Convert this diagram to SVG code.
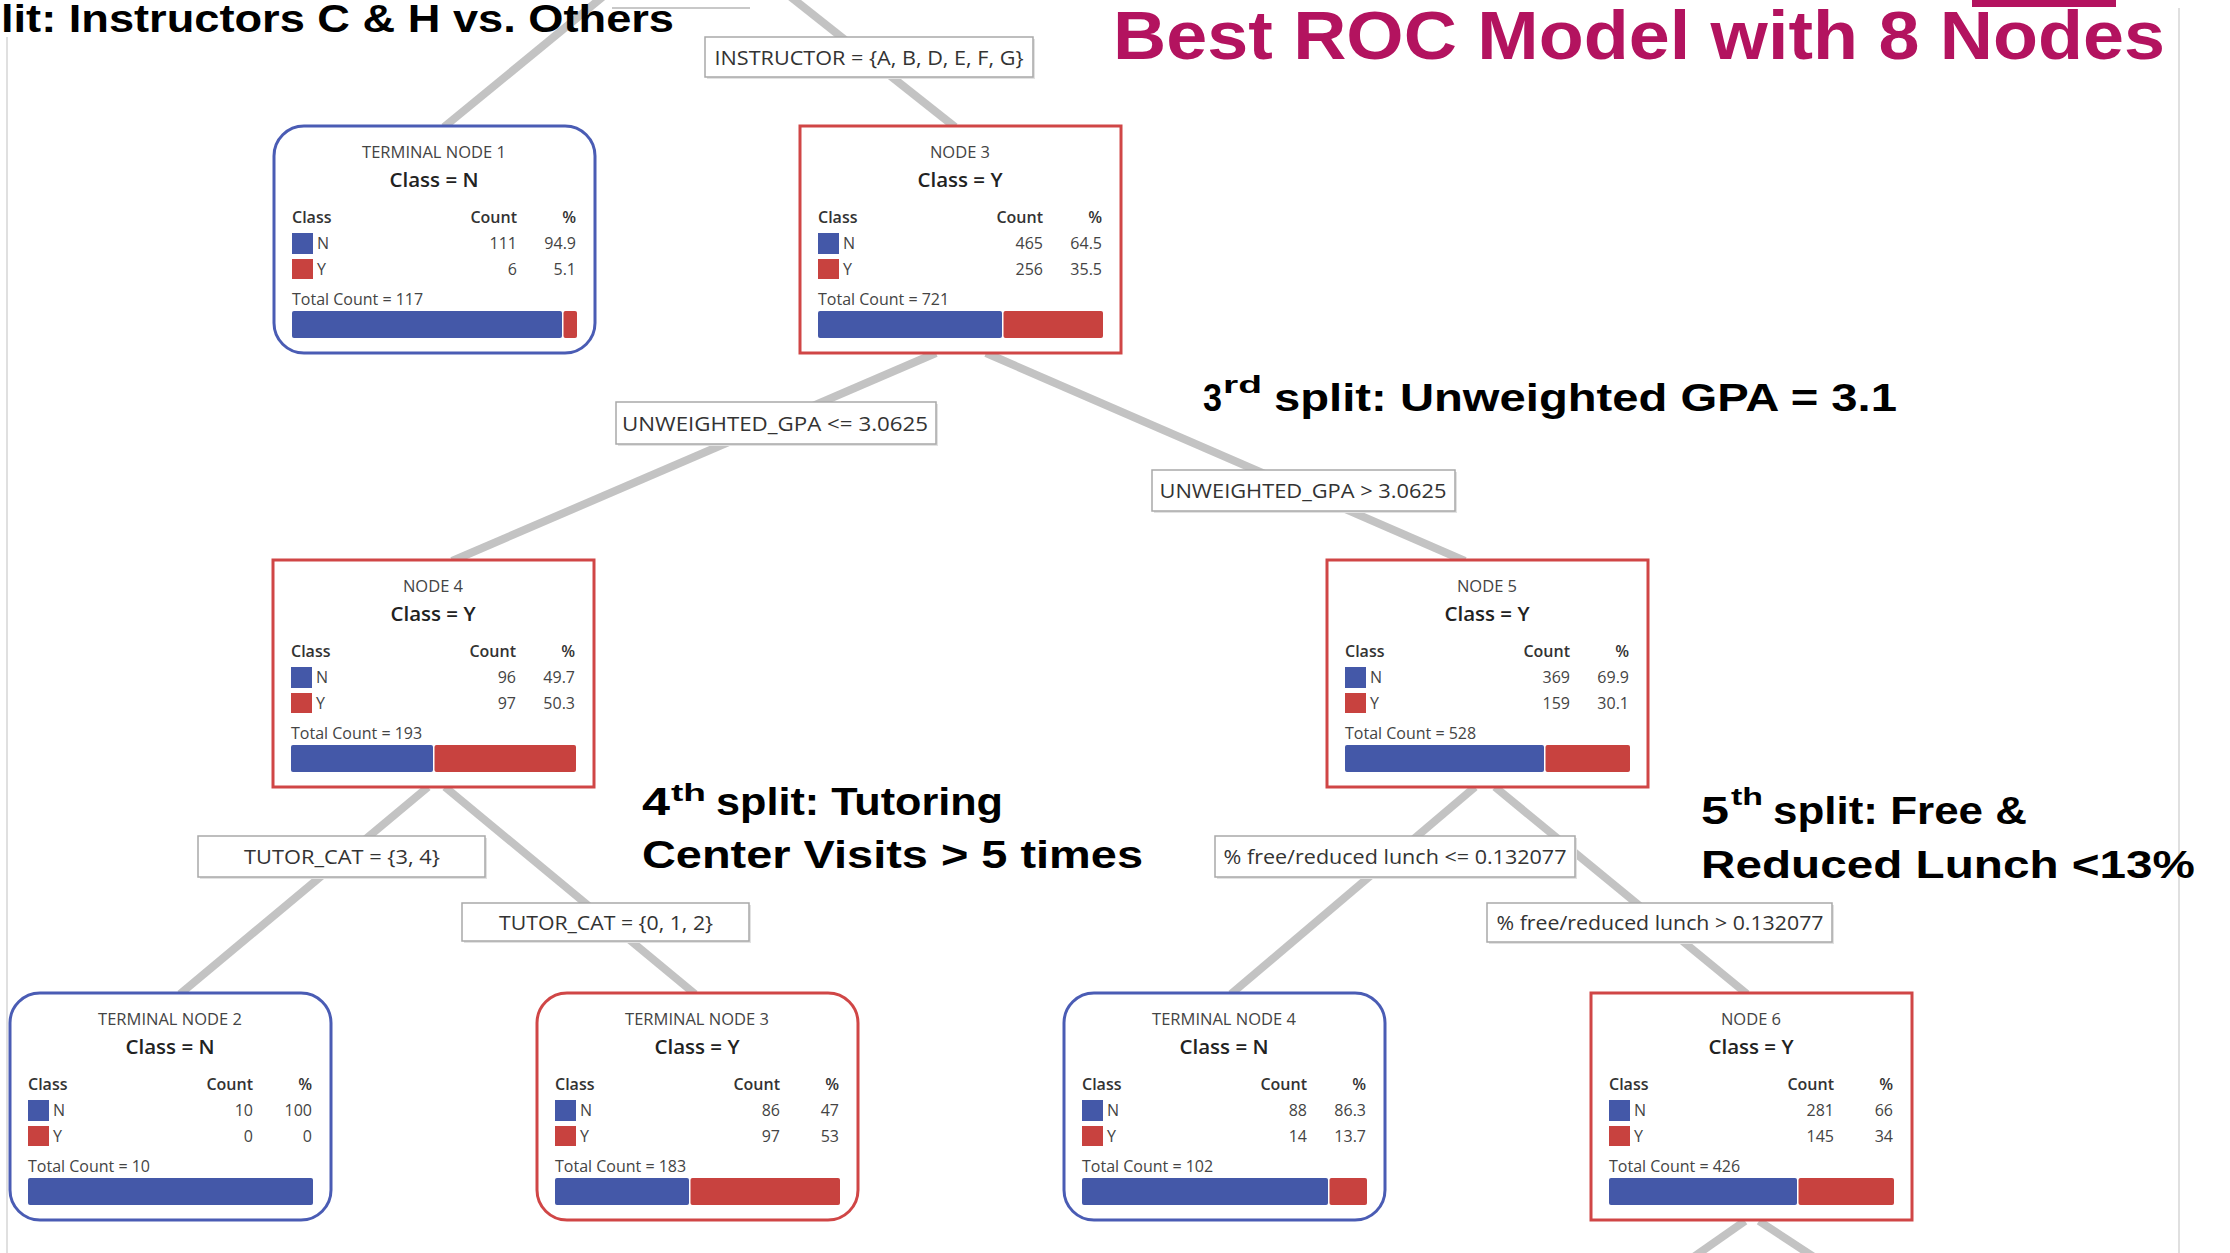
<svg xmlns="http://www.w3.org/2000/svg" width="2230" height="1253" viewBox="0 0 2230 1253">
<defs>
<style>
.bg{fill:#ffffff}
.frame{stroke:#d6d6d6;stroke-width:1.5;fill:none}
.conn line{stroke:#c3c3c3;stroke-width:8;stroke-linecap:butt}
.lbl rect.s{fill:#e2e2e2}
.lbl rect.b{fill:#ffffff;stroke:#a9a9a9;stroke-width:1.5}
.lbl text{font-family:"Open Sans","Noto Sans",sans-serif;font-size:20px;fill:#333;text-anchor:middle}
.box{fill:#ffffff;stroke-width:3}
.blue .box{stroke:#4a5cb4}
.red .box{stroke:#d04646}
.t{font-family:"Open Sans","Noto Sans",sans-serif;font-size:16.5px;fill:#444;text-anchor:middle}
.c{font-family:"Open Sans","Noto Sans",sans-serif;font-size:20.5px;font-weight:600;fill:#222;text-anchor:middle}
.h{font-family:"Open Sans","Noto Sans",sans-serif;font-size:16px;font-weight:600;fill:#333}
.v{font-family:"Open Sans","Noto Sans",sans-serif;font-size:16px;fill:#444}
.e{text-anchor:end}
.sb{fill:#4458a8}
.sr{fill:#c8423f}
.ann{font-family:"Liberation Sans",Arial,sans-serif;font-weight:bold;fill:#000}
.big{font-size:38px}
.sup{font-size:24px}
.ttl{font-family:"Liberation Sans",Arial,sans-serif;font-weight:bold;font-size:68px;fill:#b3135f}
</style>
</defs>
<rect class="bg" x="0" y="0" width="2230" height="1253"/>

<g id="frame">
<line class="frame" x1="7" y1="37" x2="7" y2="1253"/>
<line class="frame" x1="2179" y1="8" x2="2179" y2="1253"/>
<line x1="612" y1="8" x2="750" y2="8" stroke="#c8c8c8" stroke-width="2"/>
<rect x="1972" y="0" width="144" height="7" fill="#b3135f"/>
</g>

<g id="connectors" class="conn">
<line x1="611" y1="-10" x2="444" y2="127"/>
<line x1="782" y1="-10" x2="955" y2="127"/>
<line x1="936" y1="353" x2="452" y2="561"/>
<line x1="986" y1="353" x2="1465" y2="561"/>
<line x1="428" y1="787" x2="180" y2="994"/>
<line x1="445" y1="787" x2="695" y2="994"/>
<line x1="1475" y1="787" x2="1231" y2="994"/>
<line x1="1495" y1="787" x2="1747" y2="994"/>
<line x1="1745" y1="1221" x2="1685" y2="1263"/>
<line x1="1759" y1="1221" x2="1823" y2="1263"/>
</g>

<g id="labels" class="lbl">
<g id="lbl-instructor"><rect class="s" x="707" y="39" width="328" height="40"/><rect class="b" x="705" y="37" width="328" height="40"/><text x="869" y="64.5" textLength="309" lengthAdjust="spacingAndGlyphs">INSTRUCTOR = {A, B, D, E, F, G}</text></g>
<g id="lbl-gpa-le"><rect class="s" x="618" y="404" width="320" height="42"/><rect class="b" x="616" y="402" width="320" height="42"/><text x="775" y="430.5" textLength="306" lengthAdjust="spacingAndGlyphs">UNWEIGHTED_GPA &lt;= 3.0625</text></g>
<g id="lbl-gpa-gt"><rect class="s" x="1154" y="472" width="303" height="41"/><rect class="b" x="1152" y="470" width="303" height="41"/><text x="1303" y="498" textLength="287" lengthAdjust="spacingAndGlyphs">UNWEIGHTED_GPA &gt; 3.0625</text></g>
<g id="lbl-tutor-34"><rect class="s" x="200" y="838" width="287" height="41"/><rect class="b" x="198" y="836" width="287" height="41"/><text x="342" y="864" textLength="196" lengthAdjust="spacingAndGlyphs">TUTOR_CAT = {3, 4}</text></g>
<g id="lbl-tutor-012"><rect class="s" x="464" y="905" width="287" height="38"/><rect class="b" x="462" y="903" width="287" height="38"/><text x="606" y="929.5" textLength="214" lengthAdjust="spacingAndGlyphs">TUTOR_CAT = {0, 1, 2}</text></g>
<g id="lbl-lunch-le"><rect class="s" x="1217" y="838" width="360" height="41"/><rect class="b" x="1215" y="836" width="360" height="41"/><text x="1395" y="864" textLength="343" lengthAdjust="spacingAndGlyphs">% free/reduced lunch &lt;= 0.132077</text></g>
<g id="lbl-lunch-gt"><rect class="s" x="1489" y="905" width="345" height="39"/><rect class="b" x="1487" y="903" width="345" height="39"/><text x="1660" y="930" textLength="327" lengthAdjust="spacingAndGlyphs">% free/reduced lunch &gt; 0.132077</text></g>
</g>

<g id="terminal-node-1" class="blue" transform="translate(274,126)">
<rect class="box" x="0" y="0" width="321" height="227" rx="30"/>
<text class="t" x="160" y="32">TERMINAL NODE 1</text>
<text class="c" x="160" y="61">Class = N</text>
<text class="h" x="18" y="97">Class</text><text class="h e" x="243" y="97">Count</text><text class="h e" x="302" y="97">%</text>
<rect class="sb" x="18" y="107" width="21" height="21"/><text class="v" x="43" y="123">N</text><text class="v e" x="243" y="123">111</text><text class="v e" x="302" y="123">94.9</text>
<rect class="sr" x="18" y="133" width="21" height="20"/><text class="v" x="43" y="149">Y</text><text class="v e" x="243" y="149">6</text><text class="v e" x="302" y="149">5.1</text>
<text class="v" x="18" y="179">Total Count = 117</text>
<rect class="sb" x="18" y="185" width="270" height="27" rx="2"/><rect class="sr" x="289.5" y="185" width="13.5" height="27" rx="2"/>
</g>

<g id="node-3" class="red" transform="translate(800,126)">
<rect class="box" x="0" y="0" width="321" height="227"/>
<text class="t" x="160" y="32">NODE 3</text>
<text class="c" x="160" y="61">Class = Y</text>
<text class="h" x="18" y="97">Class</text><text class="h e" x="243" y="97">Count</text><text class="h e" x="302" y="97">%</text>
<rect class="sb" x="18" y="107" width="21" height="21"/><text class="v" x="43" y="123">N</text><text class="v e" x="243" y="123">465</text><text class="v e" x="302" y="123">64.5</text>
<rect class="sr" x="18" y="133" width="21" height="20"/><text class="v" x="43" y="149">Y</text><text class="v e" x="243" y="149">256</text><text class="v e" x="302" y="149">35.5</text>
<text class="v" x="18" y="179">Total Count = 721</text>
<rect class="sb" x="18" y="185" width="184" height="27" rx="2"/><rect class="sr" x="203.5" y="185" width="99.5" height="27" rx="2"/>
</g>

<g id="node-4" class="red" transform="translate(273,560)">
<rect class="box" x="0" y="0" width="321" height="227"/>
<text class="t" x="160" y="32">NODE 4</text>
<text class="c" x="160" y="61">Class = Y</text>
<text class="h" x="18" y="97">Class</text><text class="h e" x="243" y="97">Count</text><text class="h e" x="302" y="97">%</text>
<rect class="sb" x="18" y="107" width="21" height="21"/><text class="v" x="43" y="123">N</text><text class="v e" x="243" y="123">96</text><text class="v e" x="302" y="123">49.7</text>
<rect class="sr" x="18" y="133" width="21" height="20"/><text class="v" x="43" y="149">Y</text><text class="v e" x="243" y="149">97</text><text class="v e" x="302" y="149">50.3</text>
<text class="v" x="18" y="179">Total Count = 193</text>
<rect class="sb" x="18" y="185" width="142" height="27" rx="2"/><rect class="sr" x="161.5" y="185" width="141.5" height="27" rx="2"/>
</g>

<g id="node-5" class="red" transform="translate(1327,560)">
<rect class="box" x="0" y="0" width="321" height="227"/>
<text class="t" x="160" y="32">NODE 5</text>
<text class="c" x="160" y="61">Class = Y</text>
<text class="h" x="18" y="97">Class</text><text class="h e" x="243" y="97">Count</text><text class="h e" x="302" y="97">%</text>
<rect class="sb" x="18" y="107" width="21" height="21"/><text class="v" x="43" y="123">N</text><text class="v e" x="243" y="123">369</text><text class="v e" x="302" y="123">69.9</text>
<rect class="sr" x="18" y="133" width="21" height="20"/><text class="v" x="43" y="149">Y</text><text class="v e" x="243" y="149">159</text><text class="v e" x="302" y="149">30.1</text>
<text class="v" x="18" y="179">Total Count = 528</text>
<rect class="sb" x="18" y="185" width="199" height="27" rx="2"/><rect class="sr" x="218.5" y="185" width="84.5" height="27" rx="2"/>
</g>

<g id="terminal-node-2" class="blue" transform="translate(10,993)">
<rect class="box" x="0" y="0" width="321" height="227" rx="30"/>
<text class="t" x="160" y="32">TERMINAL NODE 2</text>
<text class="c" x="160" y="61">Class = N</text>
<text class="h" x="18" y="97">Class</text><text class="h e" x="243" y="97">Count</text><text class="h e" x="302" y="97">%</text>
<rect class="sb" x="18" y="107" width="21" height="21"/><text class="v" x="43" y="123">N</text><text class="v e" x="243" y="123">10</text><text class="v e" x="302" y="123">100</text>
<rect class="sr" x="18" y="133" width="21" height="20"/><text class="v" x="43" y="149">Y</text><text class="v e" x="243" y="149">0</text><text class="v e" x="302" y="149">0</text>
<text class="v" x="18" y="179">Total Count = 10</text>
<rect class="sb" x="18" y="185" width="285" height="27" rx="2"/>
</g>

<g id="terminal-node-3" class="red" transform="translate(537,993)">
<rect class="box" x="0" y="0" width="321" height="227" rx="30"/>
<text class="t" x="160" y="32">TERMINAL NODE 3</text>
<text class="c" x="160" y="61">Class = Y</text>
<text class="h" x="18" y="97">Class</text><text class="h e" x="243" y="97">Count</text><text class="h e" x="302" y="97">%</text>
<rect class="sb" x="18" y="107" width="21" height="21"/><text class="v" x="43" y="123">N</text><text class="v e" x="243" y="123">86</text><text class="v e" x="302" y="123">47</text>
<rect class="sr" x="18" y="133" width="21" height="20"/><text class="v" x="43" y="149">Y</text><text class="v e" x="243" y="149">97</text><text class="v e" x="302" y="149">53</text>
<text class="v" x="18" y="179">Total Count = 183</text>
<rect class="sb" x="18" y="185" width="134" height="27" rx="2"/><rect class="sr" x="153.5" y="185" width="149.5" height="27" rx="2"/>
</g>

<g id="terminal-node-4" class="blue" transform="translate(1064,993)">
<rect class="box" x="0" y="0" width="321" height="227" rx="30"/>
<text class="t" x="160" y="32">TERMINAL NODE 4</text>
<text class="c" x="160" y="61">Class = N</text>
<text class="h" x="18" y="97">Class</text><text class="h e" x="243" y="97">Count</text><text class="h e" x="302" y="97">%</text>
<rect class="sb" x="18" y="107" width="21" height="21"/><text class="v" x="43" y="123">N</text><text class="v e" x="243" y="123">88</text><text class="v e" x="302" y="123">86.3</text>
<rect class="sr" x="18" y="133" width="21" height="20"/><text class="v" x="43" y="149">Y</text><text class="v e" x="243" y="149">14</text><text class="v e" x="302" y="149">13.7</text>
<text class="v" x="18" y="179">Total Count = 102</text>
<rect class="sb" x="18" y="185" width="246" height="27" rx="2"/><rect class="sr" x="265.5" y="185" width="37.5" height="27" rx="2"/>
</g>

<g id="node-6" class="red" transform="translate(1591,993)">
<rect class="box" x="0" y="0" width="321" height="227"/>
<text class="t" x="160" y="32">NODE 6</text>
<text class="c" x="160" y="61">Class = Y</text>
<text class="h" x="18" y="97">Class</text><text class="h e" x="243" y="97">Count</text><text class="h e" x="302" y="97">%</text>
<rect class="sb" x="18" y="107" width="21" height="21"/><text class="v" x="43" y="123">N</text><text class="v e" x="243" y="123">281</text><text class="v e" x="302" y="123">66</text>
<rect class="sr" x="18" y="133" width="21" height="20"/><text class="v" x="43" y="149">Y</text><text class="v e" x="243" y="149">145</text><text class="v e" x="302" y="149">34</text>
<text class="v" x="18" y="179">Total Count = 426</text>
<rect class="sb" x="18" y="185" width="188" height="27" rx="2"/><rect class="sr" x="207.5" y="185" width="95.5" height="27" rx="2"/>
</g>

<g id="annotations" class="ann">
<text class="big" x="1" y="32" textLength="673" lengthAdjust="spacingAndGlyphs">lit: Instructors C &amp; H vs. Others</text>
<text class="big" x="1203" y="411" textLength="19" lengthAdjust="spacingAndGlyphs">3</text>
<text class="sup" x="1223" y="393" textLength="39" lengthAdjust="spacingAndGlyphs">rd</text>
<text class="big" x="1274" y="411" textLength="623" lengthAdjust="spacingAndGlyphs">split: Unweighted GPA = 3.1</text>
<text class="big" x="642" y="815" textLength="28" lengthAdjust="spacingAndGlyphs">4</text>
<text class="sup" x="671" y="801" textLength="35" lengthAdjust="spacingAndGlyphs">th</text>
<text class="big" x="716" y="815" textLength="287" lengthAdjust="spacingAndGlyphs">split: Tutoring</text>
<text class="big" x="642" y="868" textLength="501" lengthAdjust="spacingAndGlyphs">Center Visits &gt; 5 times</text>
<text class="big" x="1701" y="824" textLength="28" lengthAdjust="spacingAndGlyphs">5</text>
<text class="sup" x="1731" y="805" textLength="32" lengthAdjust="spacingAndGlyphs">th</text>
<text class="big" x="1773" y="824" textLength="254" lengthAdjust="spacingAndGlyphs">split: Free &amp;</text>
<text class="big" x="1701" y="878" textLength="494" lengthAdjust="spacingAndGlyphs">Reduced Lunch &lt;13%</text>
</g>

<g id="title">
<text class="ttl" x="1113" y="59" textLength="1052" lengthAdjust="spacingAndGlyphs">Best ROC Model with 8 Nodes</text>
</g>
</svg>
